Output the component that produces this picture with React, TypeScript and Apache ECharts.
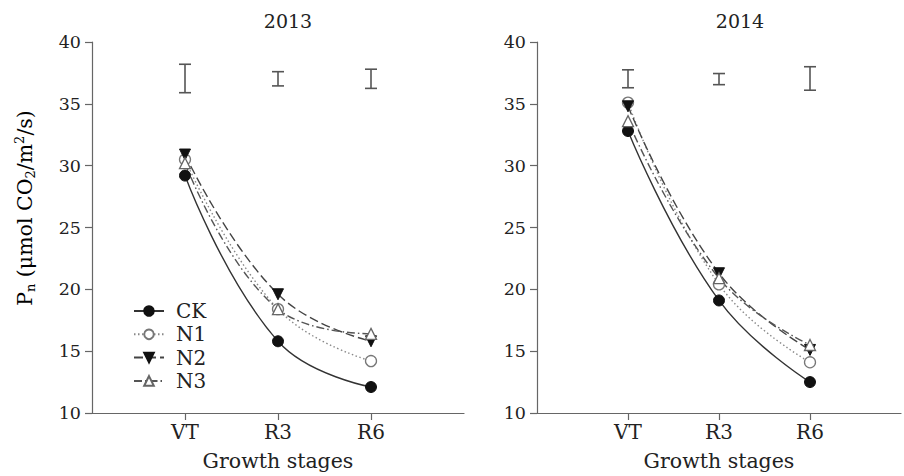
import React, { useEffect, useRef } from "react";
import * as echarts from "echarts";

const stages = ["VT", "R3", "R6"];
const axisCats = ["", "VT", "R3", "R6", ""];
const yTicks = [10, 15, 20, 25, 30, 35, 40];

const ck2013 = [29.2, 15.8, 12.1];
const n12013 = [30.5, 18.4, 14.2];
const n22013 = [30.9, 19.6, 15.8];
const n32013 = [30.2, 18.4, 16.4];

const ck2014 = [32.8, 19.1, 12.5];
const n12014 = [35.1, 20.4, 14.1];
const n22014 = [34.8, 21.3, 15.1];
const n32014 = [33.6, 20.9, 15.5];

const errLow2013 = [35.9, 36.45, 36.25];
const errHigh2013 = [38.2, 37.6, 37.8];
const errLow2014 = [36.3, 36.55, 36.1];
const errHigh2014 = [37.75, 37.45, 38.0];

const FONT = "DejaVu Serif";
const AXIS = "#666";

export default function App() {
  const ref = useRef<HTMLDivElement>(null);
  useEffect(() => {
    if (!ref.current) return;
    const chart = echarts.init(ref.current, undefined, { renderer: "svg" });

    const styles: Record<string, any> = {
      CK: {
        symbol: "circle",
        symbolSize: 11,
        symbolRotate: 0,
        lineStyle: { color: "#333", width: 1.4, type: "solid" },
        itemStyle: { color: "#111", borderColor: "#111", borderWidth: 1 },
      },
      N1: {
        symbol: "circle",
        symbolSize: 11,
        symbolRotate: 0,
        lineStyle: { color: "#888", width: 1.4, type: [1.5, 2.5] },
        itemStyle: { color: "#fff", borderColor: "#777", borderWidth: 1.3 },
      },
      N2: {
        symbol: "triangle",
        symbolSize: 11,
        symbolRotate: 180,
        lineStyle: { color: "#444", width: 1.4, type: [9, 4] },
        itemStyle: { color: "#111", borderColor: "#111", borderWidth: 1 },
      },
      N3: {
        symbol: "triangle",
        symbolSize: 11,
        symbolRotate: 0,
        lineStyle: { color: "#555", width: 1.4, type: [8, 3, 1.5, 3] },
        itemStyle: { color: "#fff", borderColor: "#666", borderWidth: 1.3 },
      },
    };

    const mk = (name: string, vals: number[], idx: number) => ({
      name,
      type: "line",
      xAxisIndex: idx,
      yAxisIndex: idx,
      smooth: 0.45,
      data: stages.map((s, i) => [s, vals[i]]),
      z: 3,
      ...styles[name],
    });

    const errSeries = (low: number[], high: number[], idx: number) => ({
      type: "custom",
      xAxisIndex: idx,
      yAxisIndex: idx,
      data: stages.map((s, i) => [s, low[i], high[i]]),
      encode: { x: 0, y: [1, 2] },
      renderItem: (params: any, api: any) => {
        const x = api.value(0);
        const lo = api.coord([x, api.value(1)]);
        const hi = api.coord([x, api.value(2)]);
        const hw = 6;
        const st = { stroke: "#555", lineWidth: 1.6 };
        return {
          type: "group",
          children: [
            { type: "line", shape: { x1: lo[0], y1: lo[1], x2: hi[0], y2: hi[1] }, style: st },
            { type: "line", shape: { x1: lo[0] - hw, y1: lo[1], x2: lo[0] + hw, y2: lo[1] }, style: st },
            { type: "line", shape: { x1: hi[0] - hw, y1: hi[1], x2: hi[0] + hw, y2: hi[1] }, style: st },
          ],
        };
      },
    });

    const xAxis = (idx: number) => ({
      type: "category",
      gridIndex: idx,
      data: axisCats,
      boundaryGap: false,
      axisLine: { lineStyle: { color: AXIS, width: 1.2 } },
      axisTick: {
        length: 7,
        interval: (i: number) => i >= 1 && i <= 3,
        lineStyle: { color: AXIS, width: 1.2 },
      },
      axisLabel: { interval: 0, fontFamily: FONT, fontSize: 20, color: "#222", margin: 9 },
      name: "Growth stages",
      nameLocation: "middle",
      nameGap: 37,
      nameTextStyle: { fontFamily: FONT, fontSize: 20.5, color: "#222" },
      splitLine: { show: false },
    });

    const yAxis = (idx: number) => ({
      type: "value",
      gridIndex: idx,
      min: yTicks[0],
      max: yTicks[yTicks.length - 1],
      interval: 5,
      axisLine: { show: true, lineStyle: { color: AXIS, width: 1.2 } },
      axisTick: { show: true, length: 7, lineStyle: { color: AXIS, width: 1.2 } },
      axisLabel: { fontFamily: FONT, fontSize: 17.5, color: "#222", margin: 11 },
      splitLine: { show: false },
    });

    chart.setOption({
      animation: false,
      backgroundColor: "#fff",
      textStyle: { fontFamily: FONT },
      title: [
        { text: "2013", left: 288, top: 11, padding: 0, textAlign: "center", textStyle: { fontFamily: FONT, fontSize: 19, fontWeight: "normal", color: "#222" } },
        { text: "2014", left: 740, top: 11, padding: 0, textAlign: "center", textStyle: { fontFamily: FONT, fontSize: 19, fontWeight: "normal", color: "#222" } },
      ],
      legend: {
        data: ["CK", "N1", "N2", "N3"],
        orient: "vertical",
        left: 133,
        top: 301,
        padding: 0,
        itemWidth: 30,
        itemHeight: 12,
        itemGap: 3.3,
        textStyle: { fontFamily: FONT, fontSize: 20, color: "#222", lineHeight: 20, padding: [0, 0, 0, 7] },
      },
      grid: [
        { left: 92, top: 42, width: 372, height: 372 },
        { left: 537, top: 42, width: 372, height: 372 },
      ],
      xAxis: [xAxis(0), xAxis(1)],
      yAxis: [yAxis(0), yAxis(1)],
      graphic: [
        {
          type: "text",
          x: 25,
          y: 208,
          rotation: Math.PI / 2,
          style: {
            text: "{m|P}{s|n}{m| (μmol CO}{s|2}{m|/m}{p|2}{m|/s)}",
            align: "center",
            verticalAlign: "middle",
            rich: {
              m: { fontFamily: FONT, fontSize: 20.5, lineHeight: 24, color: "#222" },
              s: { fontFamily: FONT, fontSize: 13, lineHeight: 14, verticalAlign: "bottom", color: "#222" },
              p: { fontFamily: FONT, fontSize: 13, lineHeight: 14, verticalAlign: "top", color: "#222" },
            },
          },
        },
      ],
      series: [
        errSeries(errLow2013, errHigh2013, 0),
        errSeries(errLow2014, errHigh2014, 1),
        mk("CK", ck2013, 0),
        mk("N1", n12013, 0),
        mk("N2", n22013, 0),
        mk("N3", n32013, 0),
        mk("CK", ck2014, 1),
        mk("N1", n12014, 1),
        mk("N2", n22014, 1),
        mk("N3", n32014, 1),
      ],
    });
    return () => chart.dispose();
  }, []);
  return (
    <div
      ref={ref}
      style={{ position: "fixed", left: 0, top: 0, width: 904, height: 476 }}
    />
  );
}
